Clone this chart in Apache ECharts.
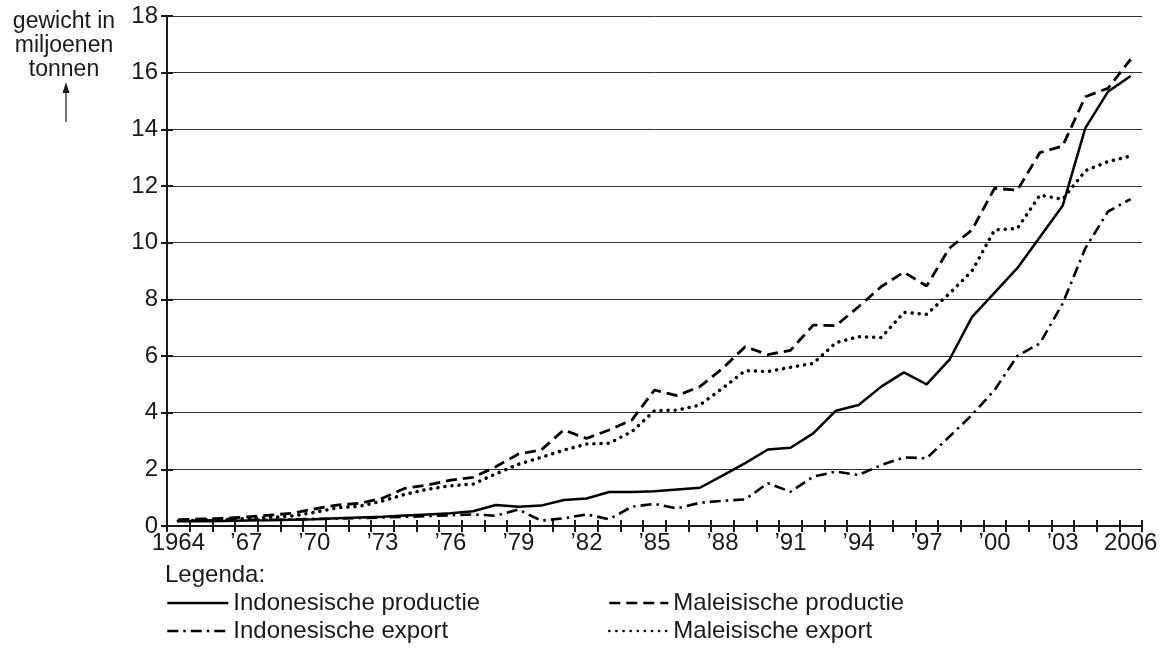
<!DOCTYPE html>
<html>
<head>
<meta charset="utf-8">
<title>Palmolie Indonesië en Maleisië</title>
<script src="https://cdn.jsdelivr.net/npm/echarts@6/dist/echarts.min.js"></script>
<style>
  html, body { margin: 0; padding: 0; background: #fff; }
  #chart { width: 1168px; height: 651px; }
</style>
</head>
<body>
<div id="chart"></div>
<script>
// jaren 1964 - 2006
var years = [];
for (var y = 1964; y <= 2006; y++) years.push(String(y));

// gewicht in miljoenen tonnen
var indoProductie = [
  0.17, 0.17, 0.18, 0.19, 0.2, 0.22, 0.24, 0.27, 0.3, 0.33,
  0.37, 0.41, 0.45, 0.52, 0.74, 0.68, 0.72, 0.92, 0.97, 1.2,
  1.2, 1.23, 1.29, 1.35, 1.78, 2.22, 2.7, 2.76, 3.27, 4.07,
  4.27, 4.92, 5.42, 5.0, 5.86, 7.37, 8.24, 9.1, 10.2, 11.3,
  14.04, 15.33, 15.88
];
var maleisProductie = [
  0.22, 0.25, 0.27, 0.32, 0.38, 0.45, 0.6, 0.74, 0.8, 0.98,
  1.33, 1.45, 1.62, 1.72, 2.09, 2.54, 2.68, 3.39, 3.09, 3.39,
  3.74, 4.8, 4.6, 4.92, 5.56, 6.33, 6.05, 6.2, 7.09, 7.07,
  7.74, 8.45, 8.96, 8.47, 9.8, 10.45, 11.92, 11.85, 13.18, 13.41,
  15.15, 15.45, 16.47
];
var indoExport = [
  0.2, 0.2, 0.21, 0.22, 0.22, 0.23, 0.25, 0.26, 0.28, 0.3,
  0.32, 0.35, 0.38, 0.41, 0.36, 0.58, 0.19, 0.27, 0.41, 0.24,
  0.68, 0.78, 0.62, 0.82, 0.89, 0.94, 1.51, 1.21, 1.74, 1.92,
  1.8, 2.15, 2.42, 2.39, 3.15, 3.92, 4.8, 6.0, 6.45, 7.85,
  9.8, 11.1, 11.54
];
var maleisExport = [
  0.18, 0.2, 0.23, 0.26, 0.3, 0.35, 0.48, 0.64, 0.7, 0.88,
  1.12, 1.3, 1.42, 1.48, 1.84, 2.18, 2.42, 2.68, 2.89, 2.92,
  3.33, 4.07, 4.09, 4.27, 4.86, 5.48, 5.45, 5.6, 5.74, 6.47,
  6.68, 6.65, 7.54, 7.47, 8.2, 9.0, 10.45, 10.5, 11.68, 11.53,
  12.54, 12.86, 13.06
];

var yMin = 0, yMax = 18, yStep = 2;
var font = "'Liberation Sans', Arial, sans-serif";
var ink = '#1a1a1a';

function yearLabel(v) {
  if (v === '1964' || v === '2006') return v;
  return '\u2019' + v.slice(2);
}

var legendBase = {
  orient: 'vertical',
  top: 589,
  padding: 0,
  itemHeight: 14, itemGap: 0,
  selectedMode: false,
  itemStyle: { opacity: 0 },
  lineStyle: { width: 2.6 },
  textStyle: { color: ink, fontSize: 24, fontFamily: font, lineHeight: 28 }
};

var chart = echarts.init(document.getElementById('chart'));

var option = {
  backgroundColor: '#fff',
  animation: false,
  grid: { left: 167, right: 26, top: 16, bottom: 125 },
  xAxis: [{
    type: 'category',
    data: years,
    boundaryGap: true,
    axisLine: { lineStyle: { color: ink, width: 2 } },
    axisTick: { show: true, length: 6, interval: 0, lineStyle: { color: ink, width: 2 } },
    axisLabel: {
      interval: 2, margin: 5, color: ink, fontSize: 24, fontFamily: font,
      formatter: yearLabel
    },
    splitLine: { show: false }
  }, {
    // tweede as alleen voor de streepjes die boven de as uitsteken
    type: 'category',
    data: years,
    boundaryGap: true,
    position: 'bottom',
    axisLine: { show: false },
    axisTick: { show: true, inside: true, length: 6, interval: 0, lineStyle: { color: ink, width: 2 } },
    axisLabel: { show: false },
    splitLine: { show: false }
  }],
  yAxis: [{
    type: 'value',
    min: yMin, max: yMax, interval: yStep,
    axisLine: { show: true, lineStyle: { color: ink, width: 2 } },
    axisTick: { show: true, length: 6, lineStyle: { color: ink, width: 2 } },
    axisLabel: { margin: 9, color: ink, fontSize: 24, fontFamily: font },
    splitLine: { show: true, lineStyle: { color: '#333', width: 1 } }
  }, {
    type: 'value',
    min: yMin, max: yMax, interval: yStep,
    position: 'left',
    axisLine: { show: false },
    axisTick: { show: true, inside: true, length: 6, lineStyle: { color: ink, width: 2 } },
    axisLabel: { show: false },
    splitLine: { show: false }
  }],
  legend: [
    Object.assign({}, legendBase, {
      left: 166, itemWidth: 61,
      data: ['Indonesische productie', 'Indonesische export']
    }),
    Object.assign({}, legendBase, {
      left: 608, itemWidth: 59,
      data: ['Maleisische productie', 'Maleisische export']
    })
  ],
  graphic: [
    {
      type: 'text',
      style: {
        x: 64, y: 10, text: 'gewicht in\nmiljoenen\ntonnen',
        font: '23px ' + font, fill: ink, align: 'center', lineHeight: 24
      }
    },
    {
      type: 'line',
      shape: { x1: 66, y1: 122, x2: 66, y2: 88 },
      style: { stroke: ink, lineWidth: 1.2 }
    },
    {
      type: 'polygon',
      shape: { points: [[66, 82], [62.5, 93], [69.5, 93]] },
      style: { fill: ink }
    },
    {
      type: 'text',
      style: { x: 165, y: 563, text: 'Legenda:', font: '24px ' + font, fill: ink }
    }
  ],
  series: [{
    name: 'Indonesische productie',
    type: 'line',
    data: indoProductie,
    symbol: 'none',
    lineStyle: { color: '#000', width: 2.5, type: 'solid' },
    itemStyle: { color: '#000' }
  }, {
    name: 'Maleisische productie',
    type: 'line',
    data: maleisProductie,
    symbol: 'none',
    lineStyle: { color: '#000', width: 2.8, type: [11, 6] },
    itemStyle: { color: '#000' }
  }, {
    name: 'Indonesische export',
    type: 'line',
    data: indoExport,
    symbol: 'none',
    lineStyle: { color: '#000', width: 2.6, type: [11, 5, 2.5, 5] },
    itemStyle: { color: '#000' }
  }, {
    name: 'Maleisische export',
    type: 'line',
    data: maleisExport,
    symbol: 'none',
    lineStyle: { color: '#000', width: 3.5, type: [0.1, 7], cap: 'round' },
    itemStyle: { color: '#000' }
  }]
};

chart.setOption(option);
window.addEventListener('resize', function () {
  chart.resize();
});
</script>
</body>
</html>
